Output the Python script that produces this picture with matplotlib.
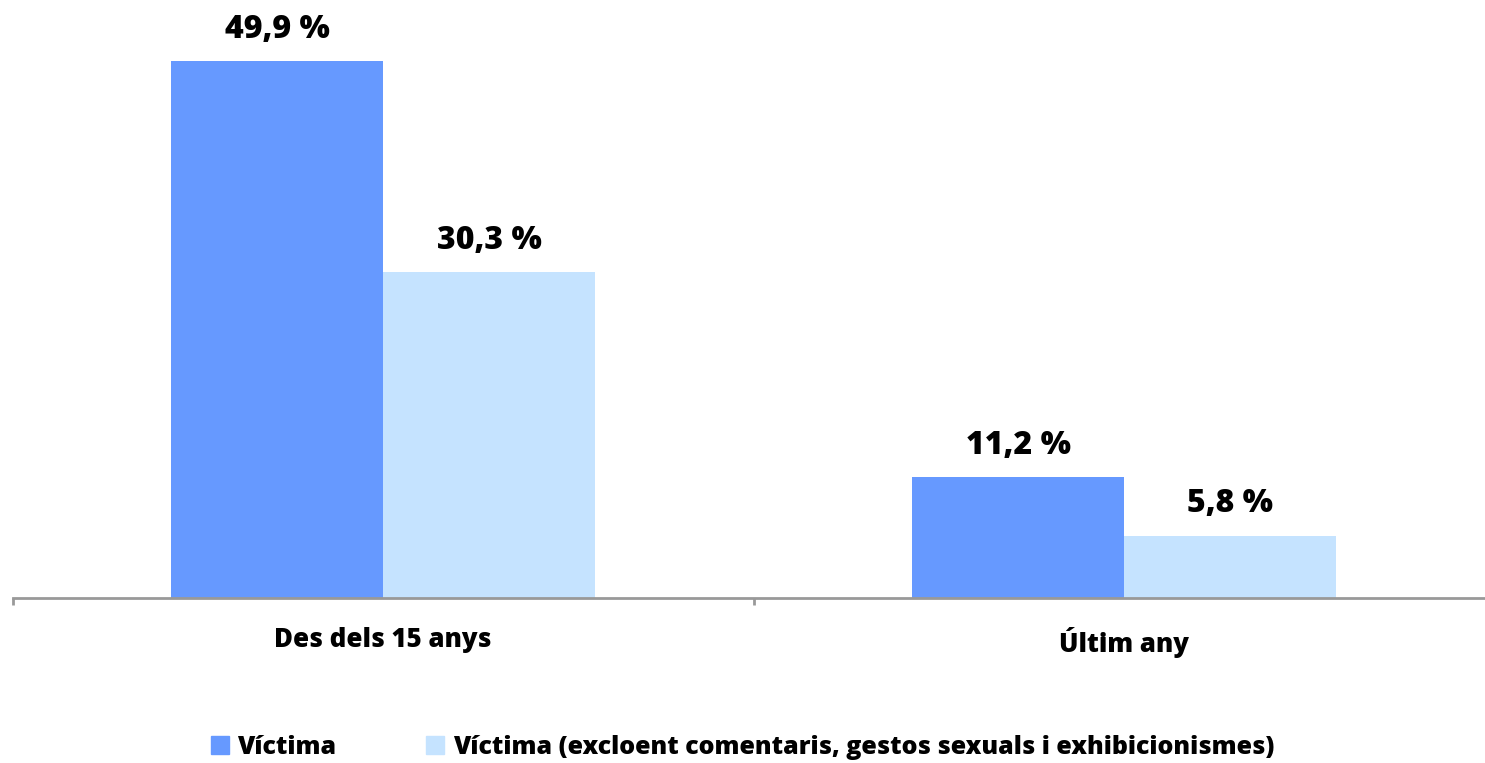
import matplotlib.pyplot as plt
import numpy as np
from matplotlib.patches import Patch

categories = ['Des dels 15 anys', 'Últim any']
victima = [49.9, 11.2]
victima_excl = [30.3, 5.8]
series_names = ['Víctima', 'Víctima (excloent comentaris, gestos sexuals i exhibicionismes)']
colors = ['#6699FF', '#C5E3FF']

plt.rcParams['font.family'] = ['Open Sans', 'DejaVu Sans']
plt.rcParams['font.weight'] = 800

fig = plt.figure(figsize=(14.85, 7.63), dpi=100)
ax = fig.add_axes([12.5 / 1485, 1 - 598 / 763, 1482 / 1485, 592 / 763])

x = np.arange(len(categories))
w = 0.286
b1 = ax.bar(x - w / 2, victima, w, color=colors[0])
b2 = ax.bar(x + w / 2, victima_excl, w, color=colors[1])

for bars, vals in [(b1, victima), (b2, victima_excl)]:
    for bar, v in zip(bars, vals):
        ax.annotate(f'{v:.1f} %'.replace('.', ','),
                    (bar.get_x() + bar.get_width() / 2, v),
                    xytext=(0, 11), textcoords='offset points',
                    ha='center', va='bottom', fontsize=23, fontweight=800)

ax.set_xlim(-0.5, 1.5)
ax.set_ylim(0, 55)
ax.set_yticks([])
for s in ['top', 'right', 'left']:
    ax.spines[s].set_visible(False)
ax.spines['bottom'].set_color('#999999')
ax.spines['bottom'].set_linewidth(2)

ax.set_xticks(x)
ax.set_xticklabels(categories, fontsize=18.6, fontweight=800)
ax.tick_params(axis='x', which='major', length=0, pad=21)
ax.set_xticks([-0.5, 0.5], minor=True)
ax.tick_params(axis='x', which='minor', length=5, width=2, color='#999999')

handles = [Patch(color=c) for c in colors]
fig.legend(handles, series_names, loc='center', bbox_to_anchor=(0.5, 1 - 747 / 763),
           ncol=2, frameon=False, handlelength=0.7, handleheight=0.7,
           handletextpad=0.35, columnspacing=3.6, prop={'weight': 800, 'size': 18})

fig.savefig('out.png', dpi=100)
